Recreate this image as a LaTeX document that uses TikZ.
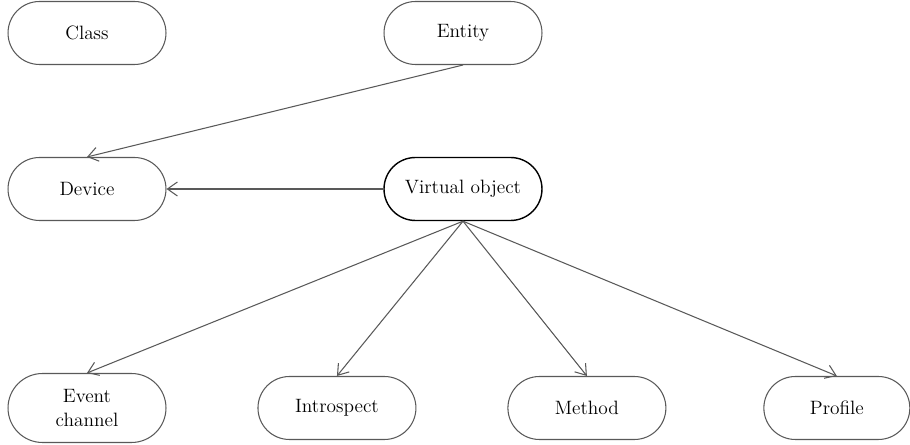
\documentclass[tikz,border=0pt]{standalone}
\usepackage{amsmath}
\usepackage{tikz}
\usetikzlibrary{arrows.meta}
\begin{document}
\begin{tikzpicture}[x=0.02cm,y=-0.02cm,main/.style = {draw=black!65, line width=0.6pt, rounded corners=0.63cm, minimum width=3.16cm, minimum height=1.26cm, align=center, font=\fontsize{11}{14}\selectfont}, link/.style = {draw=black!65, line width=0.6pt, -{Straight Barb[length=2mm,width=2.8mm]}}, node distance={5cm}]
\useasboundingbox (0,0) rectangle (910,445);
\node[main] (class) at (87,33) {Class};
\node[main] (entity) at (463,33) {Entity};
\node[main] (device) at (87,189) {Device};
\node[main, draw=black, line width=0.8pt] (vobj) at (463,189) {Virtual object};
\node[main, minimum height=1.38cm, rounded corners=0.69cm] (event) at (87,408) {Event\\channel};
\node[main] (intro) [right of=event] {Introspect};
\node[main] (method) [right of=intro] {Method};
\node[main, minimum width=2.92cm] (profile) [right of=method] {Profile};
\draw[link] (entity.south) -- (device.north);
\draw[link] (vobj) -- (device);
\draw[link] (vobj.south) -- (event.north);
\draw[link] (vobj.south) -- (intro.north);
\draw[link] (vobj.south) -- (method.north);
\draw[link] (vobj.south) -- (profile.north);
\end{tikzpicture}
\end{document}
